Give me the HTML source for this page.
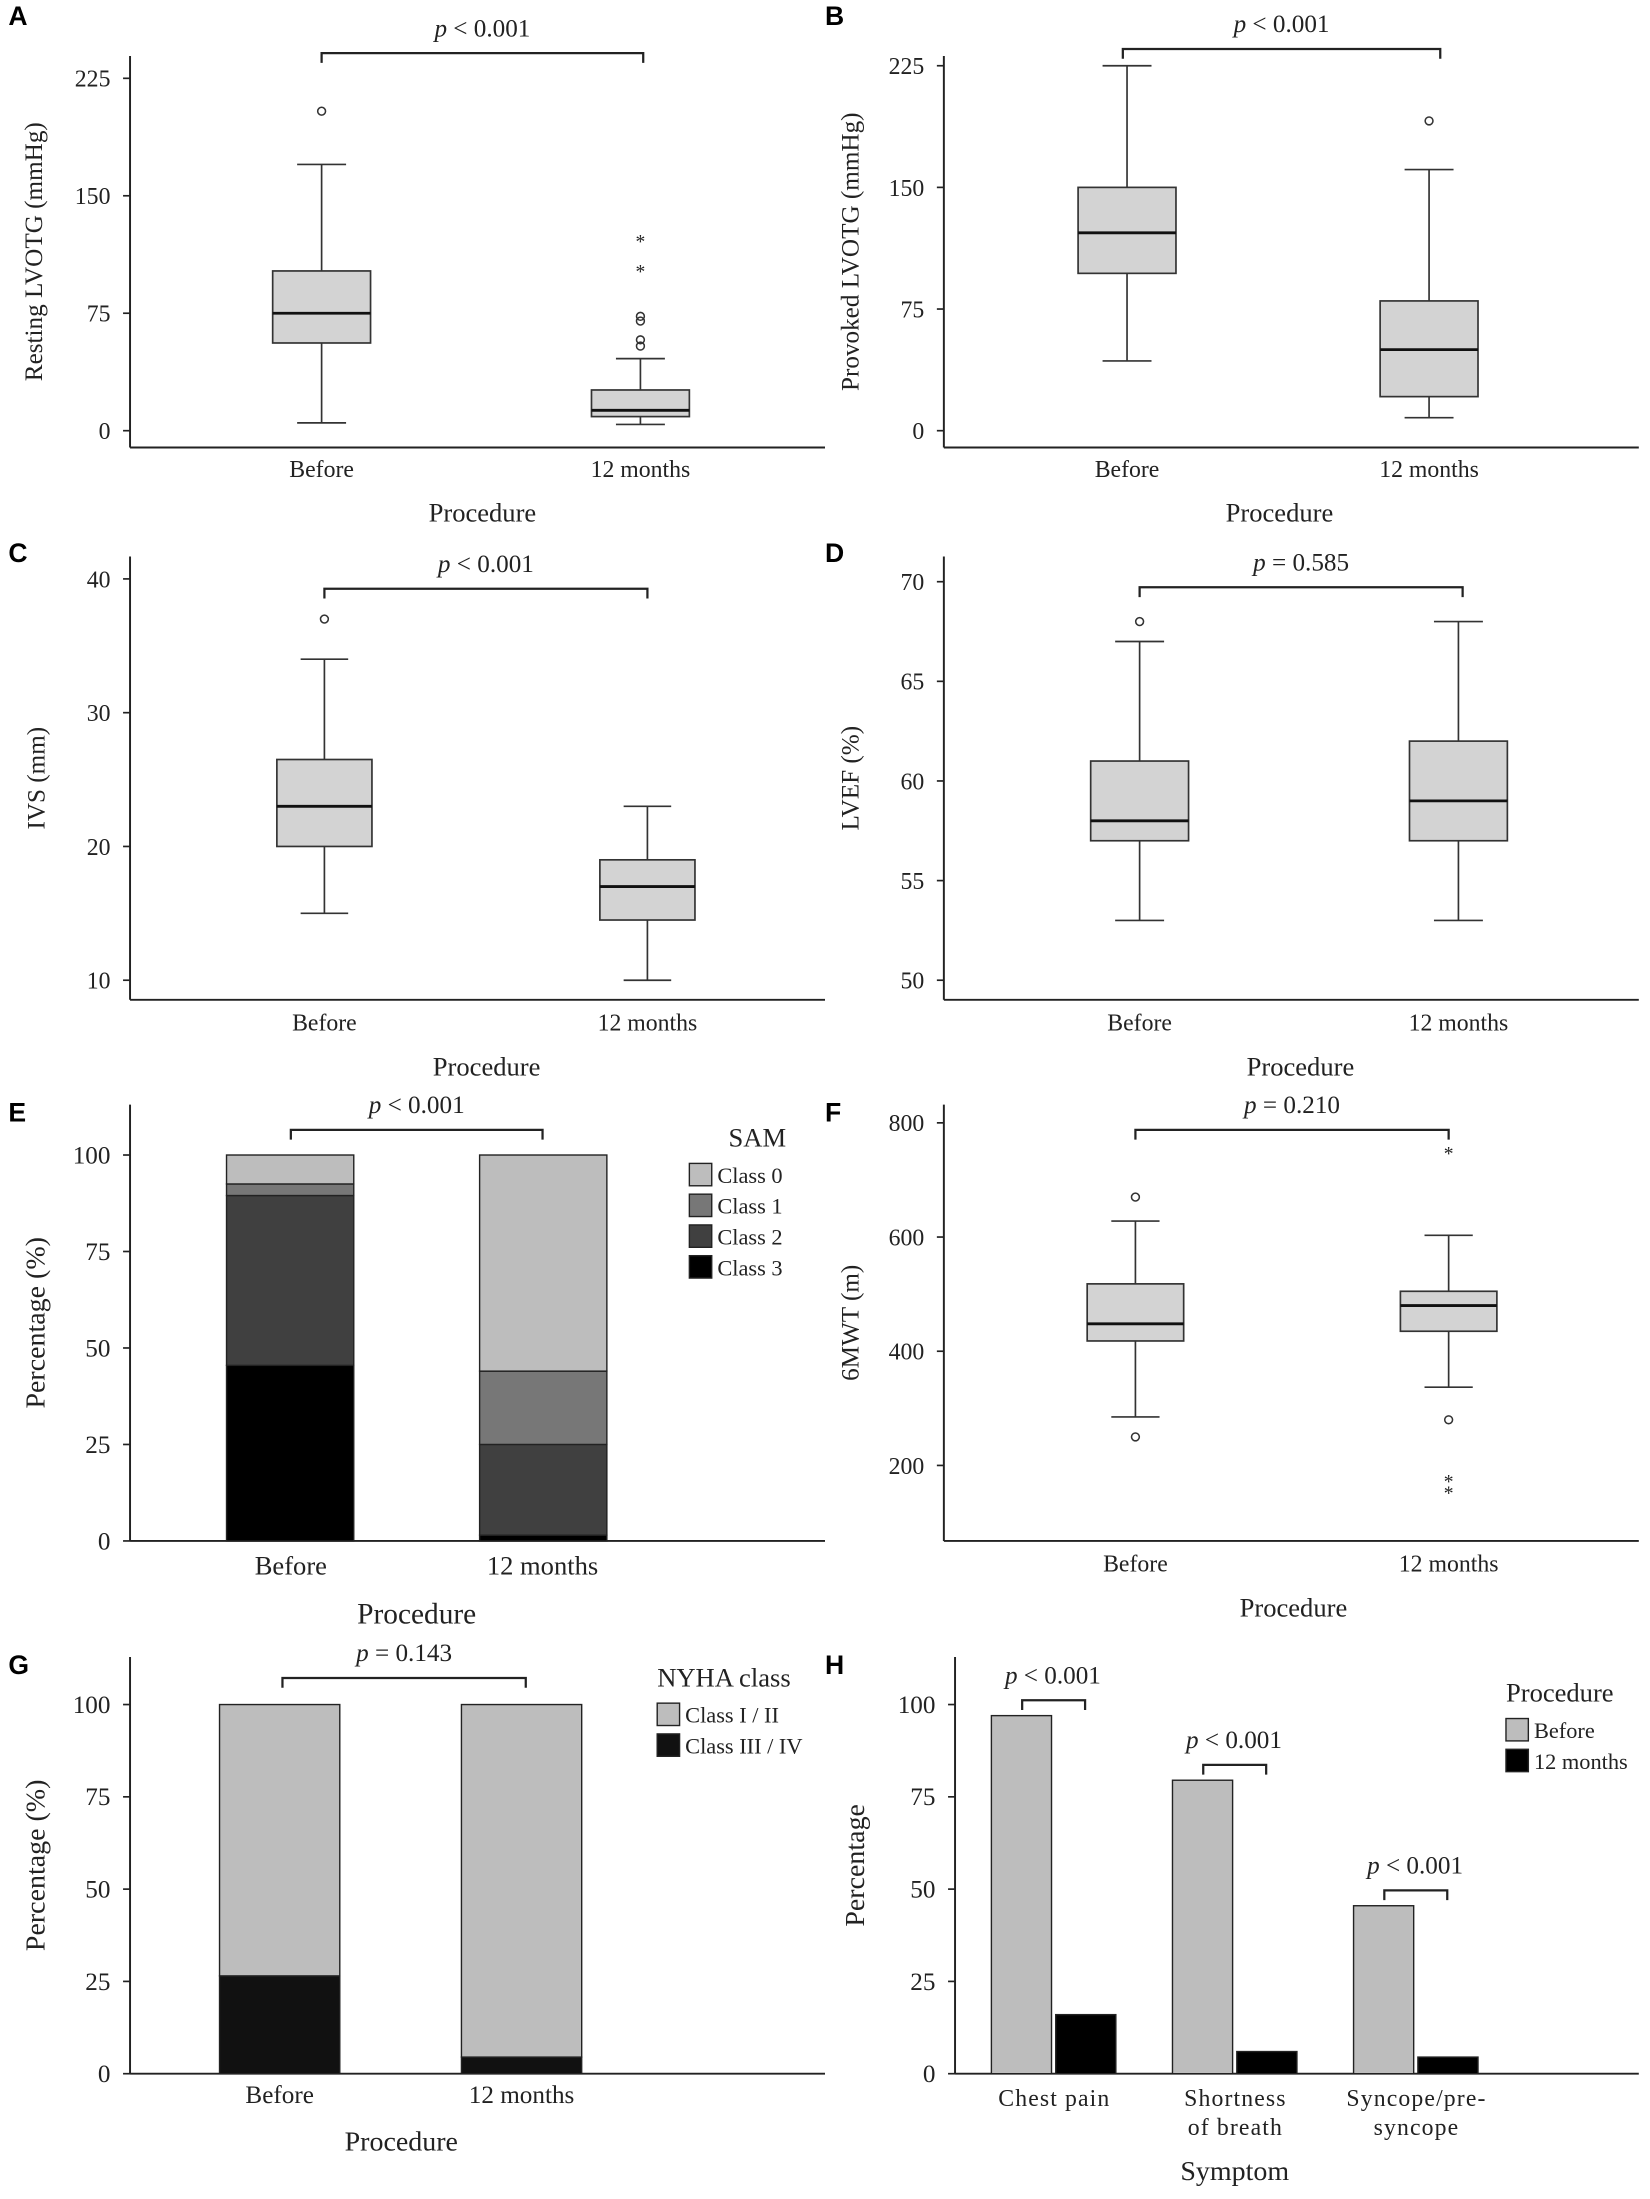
<!DOCTYPE html>
<html><head><meta charset="utf-8">
<style>
html,body{margin:0;padding:0;background:#fff;}
svg{display:block;}
text{font-family:"Liberation Serif",serif;fill:#222;}
.lt{font-family:"Liberation Sans",sans-serif;font-weight:bold;font-size:19px;fill:#000;}
</style></head>
<body>
<svg id="fig" xmlns="http://www.w3.org/2000/svg" width="1650" height="2199" viewBox="0 0 1180 1572.6"></svg>
<script>
// ---- data ----
const groups = ["Before", "12 months"];
// Panel A: resting LVOTG [low, q1, med, q3, high]
const aBox = [[5, 56, 75, 102, 170], [4, 9, 13, 26, 46]];
const aCircles = [[204], [73, 70, 58, 54]];
const aStars = [[], [122, 103]];
const aTicks = [0, 75, 150, 225];
// Panel B
const bBox = [[43, 97, 122, 150, 225], [8, 21, 50, 80, 161]];
const bCircles = [[], [191]];
const bStars = [[], []];
const bTicks = [0, 75, 150, 225];
// Panel C
const cBox = [[15, 20, 23, 26.5, 34], [10, 14.5, 17, 19, 23]];
const cCircles = [[37], []];
const cStars = [[], []];
const cTicks = [10, 20, 30, 40];
// Panel D
const dBox = [[53, 57, 58, 61, 67], [53, 57, 59, 62, 68]];
const dCircles = [[68], []];
const dStars = [[], []];
const dTicks = [50, 55, 60, 65, 70];
// Panel E SAM stacked (class3, class2, class1, class0)
const samClasses = ["Class 0", "Class 1", "Class 2", "Class 3"];
const samBefore = [45.5, 44, 3, 7.5];
const samAfter = [1.5, 23.5, 19, 56];
const pctTicks = [0, 25, 50, 75, 100];
// Panel F
const fBox = [[285, 418, 448, 518, 628], [337, 435, 480, 505, 603]];
const fCircles = [[670, 250], [280]];
const fStars = [[], [750, 175, 155]];
const fTicks = [200, 400, 600, 800];
// Panel G NYHA (class III/IV, class I/II)
const nyhaClasses = ["Class I / II", "Class III / IV"];
const nyhaBefore = [26.5, 73.5];
const nyhaAfter = [4.5, 95.5];
// Panel H symptoms
const symptoms = [["Chest pain"], ["Shortness", "of breath"], ["Syncope/pre-", "syncope"]];
const symBefore = [97, 79.5, 45.5];
const symAfter = [16, 6, 4.5];

// ---- helpers ----
const svg = document.getElementById('fig');
const NS = "http://www.w3.org/2000/svg";
function el(tag, attrs, parent) {
  const e = document.createElementNS(NS, tag);
  for (const k in attrs) e.setAttribute(k, attrs[k]);
  (parent || svg).appendChild(e);
  return e;
}
function txt(x, y, s, size, anchor, parent, extra) {
  const t = el('text', Object.assign({x: x, y: y, 'font-size': size, 'text-anchor': anchor || 'middle'}, extra || {}), parent);
  t.textContent = s;
  return t;
}
function scale(v0, y0, v1, y1) { return v => y0 + (v - v0) * (y1 - y0) / (v1 - v0); }

function axes(g, ax, top, bottom, right, ticks, y, title, titleX, fs) {
  const yl = el('line', {x1: ax, y1: top, x2: ax, y2: bottom, stroke: '#222', 'stroke-width': 1.4}, g);
  
  
  const xl = el('line', {x1: ax, y1: bottom, x2: right, y2: bottom, stroke: '#222', 'stroke-width': 1.4}, g);
  
  
  ticks.forEach(v => {
    el('line', {x1: ax - 5, y1: y(v), x2: ax, y2: y(v), stroke: '#222', 'stroke-width': 1.2}, g);
    const t = txt(ax - 14, y(v) + 6, String(v), fs || 17, 'end', g);
    
    
  });
  const cy = (top + bottom) / 2;
  const tt = txt(titleX, cy, title, fs ? fs + 2 : 18, 'middle', g, {transform: `rotate(-90 ${titleX} ${cy})`});
  
  
}
function bracket(g, x1, x2, yb, label, tx) {
  el('path', {d: `M${x1} ${yb + 7} V${yb} H${x2} V${yb + 7}`, fill: 'none', stroke: '#222', 'stroke-width': 1.6}, g);
  const t = el('text', {x: tx === undefined ? (x1 + x2) / 2 : tx, y: yb - 12, 'font-size': 18, 'text-anchor': 'middle'}, g);
  t.innerHTML = '<tspan font-style="italic">p</tspan> ' + label;
  
  
}
function boxplot(g, cx, w, b, circles, stars, y) {
  const bg = el('g', {}, g);
  
  
  const s = {stroke: '#333', 'stroke-width': 1.2};
  el('line', Object.assign({x1: cx, y1: y(b[0]), x2: cx, y2: y(b[1])}, s), bg);
  el('line', Object.assign({x1: cx, y1: y(b[3]), x2: cx, y2: y(b[4])}, s), bg);
  el('line', Object.assign({x1: cx - w / 4, y1: y(b[0]), x2: cx + w / 4, y2: y(b[0])}, s), bg);
  el('line', Object.assign({x1: cx - w / 4, y1: y(b[4]), x2: cx + w / 4, y2: y(b[4])}, s), bg);
  el('rect', Object.assign({x: cx - w / 2, y: y(b[3]), width: w, height: y(b[1]) - y(b[3]), fill: '#d3d3d3'}, s), bg);
  el('line', {x1: cx - w / 2, y1: y(b[2]), x2: cx + w / 2, y2: y(b[2]), stroke: '#111', 'stroke-width': 2}, bg);
  circles.forEach(v => el('circle', {cx: cx, cy: y(v), r: 2.8, fill: 'none', stroke: '#333', 'stroke-width': 1.1}, bg));
  stars.forEach(v => txt(cx, y(v) + 6, '*', 14, 'middle', bg));
}
function xlabels(g, xs, yl, labels, fs, procX, procY, procLabel, pfs) {
  labels.forEach((l, i) => {
    const t = txt(xs[i], yl, l, fs, 'middle', g);
    
    
  });
  const p = txt(procX, procY, procLabel, pfs, 'middle', g);
  
  
}
function panelLetter(x, y, l) {
  const t = el('text', {x: x, y: y, class: 'lt'});
  t.textContent = l;
  
  
}
function boxPanel(name, letter, lx, ly, ax, top, bottom, right, ticks, y, title, titleX, xs, w, boxes, circles, stars, br, labY, procX, procY) {
  const g = el('g', {});
  
  
  panelLetter(lx, ly, letter);
  axes(g, ax, top, bottom, right, ticks, y, title, titleX);
  boxes.forEach((b, i) => boxplot(g, xs[i], w, b, circles[i], stars[i], y));
  bracket(g, br[0], br[1], br[2], br[3]);
  xlabels(g, xs, labY, groups, 17, procX, procY, 'Procedure', 19);
}

// A
boxPanel('panel-a-resting-lvotg', 'A', 6, 18, 93, 40, 320, 590, aTicks, scale(0, 308, 225, 56),
  'Resting LVOTG (mmHg)', 30, [230, 458], 70, aBox, aCircles, aStars, [230, 460, 38, '< 0.001'], 341, 345, 373);
// B
boxPanel('panel-b-provoked-lvotg', 'B', 590, 18, 675, 40, 320, 1172, bTicks, scale(0, 308, 225, 47),
  'Provoked LVOTG (mmHg)', 614, [806, 1022], 70, bBox, bCircles, bStars, [803, 1030, 35, '< 0.001'], 341, 915, 373);
// C
boxPanel('panel-c-ivs', 'C', 6, 402, 93, 398, 715, 590, cTicks, scale(10, 701, 40, 414),
  'IVS (mm)', 32, [232, 463], 68, cBox, cCircles, cStars, [232, 463, 421, '< 0.001'], 737, 348, 769);
// D
boxPanel('panel-d-lvef', 'D', 590, 402, 675, 398, 715, 1172, dTicks, scale(50, 701, 70, 416),
  'LVEF (%)', 614, [815, 1043], 70, dBox, dCircles, dStars, [815, 1046, 420, '= 0.585'], 737, 930, 769);
// F
boxPanel('panel-f-6mwt', 'F', 590, 802, 675, 790, 1102, 1172, fTicks, scale(200, 1048, 800, 803),
  '6MWT (m)', 614, [812, 1036], 69, fBox, fCircles, fStars, [812, 1036, 808, '= 0.210'], 1124, 925, 1156);

function legend(g, x, y, title, items, colors) {
  const lg = el('g', {}, g);
  
  
  txt(x + (title === 'SAM' ? 28 : 0), y, title, 19, title === 'SAM' ? 'start' : 'start', lg);
  items.forEach((it, i) => {
    const e = el('g', {}, lg);
    
    
    el('rect', {x: x, y: y + 12 + i * 22, width: 16, height: 16, fill: colors[i], stroke: '#222', 'stroke-width': 1}, e);
    txt(x + 20, y + 26 + i * 22, it, 16, 'start', e);
  });
}
function stacked(g, x, w, vals, colors, y) {
  let acc = 0;
  vals.forEach((v, i) => {
    const r = el('rect', {x: x, y: y(acc + v), width: w, height: y(acc) - y(acc + v), fill: colors[i], stroke: '#222', 'stroke-width': 1}, g);
    
    
    acc += v;
  });
}
// E
(function () {
  const g = el('g', {});
  
  
  panelLetter(6, 802, 'E');
  const y = scale(0, 1102, 100, 826);
  axes(g, 93, 790, 1102, 590, pctTicks, y, 'Percentage (%)', 32, 18);
  const cols = ['#000', '#404040', '#777', '#bdbdbd'];
  stacked(g, 162, 91, samBefore, cols, y);
  stacked(g, 343, 91, samAfter, cols, y);
  bracket(g, 208, 388, 808, '< 0.001');
  legend(g, 493, 820, 'SAM', samClasses, ['#bdbdbd', '#777', '#404040', '#000']);
  xlabels(g, [208, 388], 1126, groups, 19, 298, 1161, 'Procedure', 21);
})();
// G
(function () {
  const g = el('g', {});
  
  
  panelLetter(6, 1197, 'G');
  const y = scale(0, 1483, 100, 1219);
  axes(g, 93, 1185, 1483, 590, pctTicks, y, 'Percentage (%)', 32, 18);
  const cols = ['#111', '#bdbdbd'];
  stacked(g, 157, 86, nyhaBefore, cols, y);
  stacked(g, 330, 86, nyhaAfter, cols, y);
  bracket(g, 202, 376, 1200, '= 0.143');
  legend(g, 470, 1206, 'NYHA class', nyhaClasses, ['#bdbdbd', '#111']);
  xlabels(g, [200, 373], 1504, groups, 18, 287, 1538, 'Procedure', 20);
})();
// H
(function () {
  const g = el('g', {});
  
  
  panelLetter(590, 1197, 'H');
  const y = scale(0, 1483, 100, 1219);
  axes(g, 683, 1185, 1483, 1172, pctTicks, y, 'Percentage', 618, 18);
  const x0 = 709, step = 129.5, bw = 43;
  symptoms.forEach((s, i) => {
    const gx = x0 + i * step;
    const r1 = el('rect', {x: gx, y: y(symBefore[i]), width: bw, height: y(0) - y(symBefore[i]), fill: '#bdbdbd', stroke: '#222', 'stroke-width': 1}, g);
    
    
    const r2 = el('rect', {x: gx + bw + 3, y: y(symAfter[i]), width: bw, height: y(0) - y(symAfter[i]), fill: '#000', stroke: '#222', 'stroke-width': 1}, g);
    
    
    const top = Math.min(y(symBefore[i]), 1220);
    bracket(g, gx + 22, gx + 67, y(symBefore[i]) - 11, '< 0.001', gx + 44);
    s.forEach((line, j) => {
      const t = txt(gx + 45, 1506 + j * 21, line, 17, 'middle', g, {'letter-spacing': '0.8'});
      
      
    });
  });
  const p = txt(883, 1559, 'Symptom', 20, 'middle', g);
  
  
  legend(g, 1077, 1217, 'Procedure', groups, ['#bdbdbd', '#000']);
})();
</script>
</body></html>
